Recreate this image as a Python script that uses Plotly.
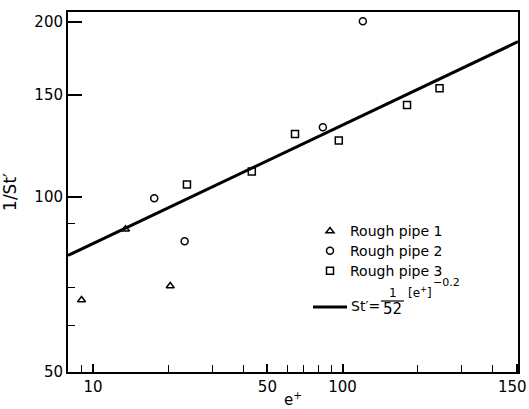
import plotly.graph_objects as go

# ---- data ----
pipe1_e = [9.0, 13.5, 20.4]
pipe1_v = [66.5, 88.0, 70.3]
pipe2_e = [17.6, 23.3, 83.4, 120.6]
pipe2_v = [99.5, 83.9, 131.8, 200.4]
pipe3_e = [23.8, 43.3, 64.5, 96.6, 181.3, 244.7]
pipe3_v = [105.1, 110.6, 128.3, 125.1, 143.9, 153.8]
fit_e = [7.94, 504.7]
fit_v = [79.3, 184.9]

x_tickvals = [10, 50, 100, 500]
x_ticktext = ["10", "50", "100", "150\u2007"]
x_minor = [9, 20, 30, 40, 60, 70, 80, 90, 200, 300, 400]
y_tickvals = [50, 100, 150, 200]
y_ticktext = ["50", "100", "150", "200"]
y_minor = [60, 70, 90]
series_names = ["Rough pipe 1", "Rough pipe 2", "Rough pipe 3"]

FONT = "DejaVu Sans"
W, H = 529, 409
L, R, T, B = 68, 11, 12, 37
PW, PH = W - L - R, H - T - B


def px(x):
    return (x - L) / PW


def py(y):
    return (H - B - y) / PH


def lname(s):
    return f"<span style='font-size:14px'>{s}</span>"


fig = go.Figure()
mk = dict(color="black", size=7, line=dict(color="black", width=1.5))
fig.add_trace(go.Scatter(x=pipe1_e, y=pipe1_v, mode="markers", name=lname(series_names[0]),
                         marker=dict(symbol="triangle-up-open", **mk)))
fig.add_trace(go.Scatter(x=pipe2_e, y=pipe2_v, mode="markers", name=lname(series_names[1]),
                         marker=dict(symbol="circle-open", **mk)))
fig.add_trace(go.Scatter(x=pipe3_e, y=pipe3_v, mode="markers", name=lname(series_names[2]),
                         marker=dict(symbol="square-open", **mk)))
fig.add_trace(go.Scatter(x=fit_e, y=fit_v, mode="lines", showlegend=False,
                         line=dict(color="black", width=3)))

axis_common = dict(
    type="log", showgrid=False, zeroline=False, showline=True, linecolor="black",
    linewidth=2, mirror=True, ticks="inside", tickcolor="black", tickwidth=1.5,
    tickfont=dict(family=FONT, size=15, color="black"), ticklabeloverflow="allow",
)

fig.update_xaxes(
    **axis_common, range=[0.9, 2.703], tickmode="array", tickvals=x_tickvals,
    ticktext=x_ticktext, ticklen=8,
    minor=dict(ticks="inside", tickmode="array", tickvals=x_minor, ticklen=7,
               tickwidth=1, tickcolor="black"),
    title=dict(text="e<sup>+</sup>", font=dict(family=FONT, size=15, color="black"),
               standoff=2),
)
fig.update_yaxes(
    **axis_common, range=[1.699, 2.318], tickmode="array", tickvals=y_tickvals,
    ticktext=y_ticktext, ticklen=14,
    minor=dict(ticks="inside", tickmode="array", tickvals=y_minor, ticklen=7,
               tickwidth=1, tickcolor="black"),
    title=dict(text="1/St′", font=dict(family=FONT, size=17, color="black"),
               standoff=14),
)

# formula legend entry
fig.add_shape(type="line", xref="paper", yref="paper", x0=px(313), x1=px(347),
              y0=py(307), y1=py(307), line=dict(color="black", width=3))
fig.add_shape(type="line", xref="paper", yref="paper", x0=px(381), x1=px(404),
              y0=py(301), y1=py(301), line=dict(color="black", width=1.2))
ann = [
    ("St′=", 349, 306, "left", 14),
    ("1", 393, 293, "center", 12),
    ("52", 392, 309, "center", 15),
    ("[e<sup>+</sup>]", 406, 292, "left", 12),
    ("−0.2", 431, 282, "left", 11),
]
for text, x, y, anc, s in ann:
    fig.add_annotation(text=text, xref="paper", yref="paper", x=px(x), y=py(y),
                       xanchor=anc, yanchor="middle", showarrow=False,
                       font=dict(family=FONT, size=s, color="black"))

fig.update_layout(
    width=W, height=H, margin=dict(l=L, r=R, t=T, b=B, autoexpand=False),
    paper_bgcolor="white", plot_bgcolor="white",
    legend=dict(x=px(310), y=py(216), xanchor="left", yanchor="top",
                bgcolor="rgba(0,0,0,0)", font=dict(family=FONT, size=13, color="black"),
                tracegroupgap=0, itemwidth=30),
)

fig.write_html("out.html")
